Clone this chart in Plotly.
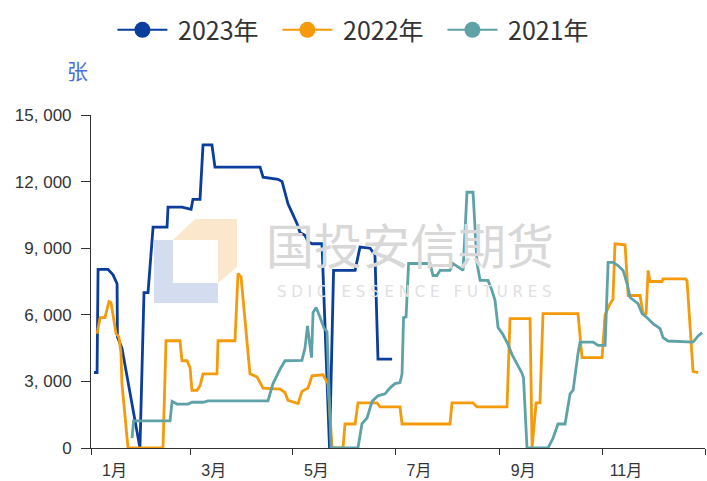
import plotly.graph_objects as go

# x = day of year (0 = 1 Jan), y = 张
days_2023 = [1.8, 3.6, 4.2, 10.1, 13.1, 15.5, 15.7, 18.4, 29.1, 31.5, 33.9, 36.9, 45.2, 45.8, 54.1,
             59.5, 60.6, 64.8, 66.6, 71.9, 73.7, 100.5, 102.3, 111.2, 113.6, 115.3, 117.1, 119.5,
             122.5, 124.3, 127.2, 129.0, 131.4, 137.3, 141.8, 144.2, 157.0, 159.9, 165.9, 168.8,
             170.6, 179.0]
vals_2023 = [3400, 3400, 8050, 8050, 7800, 7400, 5000, 4500, 0, 7000, 7000, 9950, 9950, 10850, 10850,
             10750, 11200, 11200, 13650, 13650, 12650, 12650, 12200, 12100, 12000, 11500, 11000, 10600,
             10100, 9700, 9580, 9300, 9200, 9200, 0, 8000, 8000, 9050, 9000, 8700,
             4000, 4000]

days_2022 = [3.6, 5.4, 8.3, 10.7, 11.9, 14.9, 16.6, 17.8, 18.4, 22.0, 42.8, 44.6, 52.9, 54.1, 57.1,
             58.9, 60.0, 63.0, 64.8, 66.6, 74.9, 75.5, 85.6, 87.4, 89.2, 94.5, 98.7, 102.3, 112.4,
             115.3, 117.1, 123.1, 125.4, 129.0, 131.4, 137.9, 140.9, 143.3, 149.8, 151.0, 157.0,
             158.7, 170.0, 171.8, 183.7, 184.9, 213.4, 214.6, 227.1, 229.5, 247.3, 249.1, 261.0,
             262.2, 264.6, 266.9, 268.7, 289.5, 291.9, 303.8, 305.6, 308.6, 310.3, 311.5, 317.5,
             319.3, 326.4, 328.2, 330.0, 331.2, 332.3, 339.5, 340.1, 353.2, 354.3, 357.9, 360.9]
vals_2022 = [5150, 5870, 5870, 6600, 6550, 5150, 5000, 4300, 2900, 0, 0, 4830, 4830, 3930, 3930,
             3620, 2600, 2600, 2800, 3340, 3340, 4830, 4830, 7860, 7700, 3340, 3200, 2700, 2650,
             2500, 2150, 2000, 2550, 2700, 3250, 3300, 2900, 0, 0, 1080, 1080,
             2030, 2030, 1850, 1850, 1080, 1080, 2030, 2030, 1850, 1850, 5830, 5830,
             0, 2030, 2030, 6050, 6050, 4070, 4070, 6000, 6500, 6700, 9200, 9150,
             6870, 6870, 6050, 6050, 8000, 7500, 7500, 7620, 7620, 7550, 3450, 3400]

days_2021 = [24.4, 25.3, 47.0, 48.2, 51.1, 57.7, 60.0, 66.6, 69.6, 105.2, 108.2, 110.6, 112.4, 115.3,
             125.4, 127.2, 128.7, 130.2, 131.1, 132.0, 133.8, 136.1, 138.5, 140.3, 142.7, 158.7,
             161.1, 164.1, 167.1, 170.6, 174.8, 177.8, 180.7, 183.7, 184.9, 185.8, 187.3, 188.8,
             201.5, 203.3, 205.7, 207.5, 213.4, 215.2, 219.4, 221.2, 223.5, 227.1, 229.5, 231.3,
             236.0, 238.4, 240.2, 242.0, 244.9, 247.9, 250.3, 253.3, 256.2, 257.1, 259.2, 271.7,
             274.7, 277.6, 281.8, 284.8, 286.6, 289.5, 290.7, 298.5, 301.4, 305.6, 307.4, 310.3,
             313.3, 316.3, 318.7, 320.5, 325.2, 327.6, 330.6, 334.1, 338.3, 340.1, 343.0, 357.9,
             360.9, 363.3]
vals_2021 = [450, 1220, 1220, 2100, 1980, 1980, 2060, 2060, 2120, 2120, 2900, 3300, 3550, 3930,
             3950, 4500, 5500, 4600, 4070, 6100, 6330, 5900, 5400, 5250, 0, 0,
             1100, 1350, 2100, 2350, 2440, 2710, 2900, 2950, 3340, 5870, 5900, 8310,
             8310, 7770, 7770, 8000, 8000, 8310, 8080, 8000, 11520, 11520, 8310, 7550,
             7550, 7090, 6640, 5420, 5110, 4670, 4200, 3750, 3370, 3160, 0, 0,
             450, 1080, 1080, 2440, 2600, 4250, 4770, 4770, 4620, 4620, 8360, 8360,
             8220, 8000, 7400, 6780, 6500, 6050, 5870, 5600, 5380, 4970, 4820, 4770,
             5050, 5200]

month_start_days = [0, 59, 120, 181, 243, 304, 365]
month_labels = ["1月", "3月", "5月", "7月", "9月", "11月"]
y_ticks = [0, 3000, 6000, 9000, 12000, 15000]
y_tick_labels = ["0", "3, 000", "6, 000", "9, 000", "12, 000", "15, 000"]

series = [
    ("2023年", days_2023, vals_2023, "#0a3d9c"),
    ("2022年", days_2022, vals_2022, "#f59a0a"),
    ("2021年", days_2021, vals_2021, "#5ea2a7"),
]

fig = go.Figure()
for name, xs, ys, color in series:
    fig.add_trace(go.Scatter(x=xs, y=ys, mode="lines", name=name, showlegend=False,
                             line=dict(color=color, width=2.8)))
for name, xs, ys, color in series:
    fig.add_trace(go.Scatter(x=[None], y=[None], mode="lines+markers", name="\u00a0" + name,
                             line=dict(color=color, width=2),
                             marker=dict(color=color, size=16)))

tick_font = dict(family="Liberation Sans, Noto Sans CJK SC", size=17, color="#333333")
x_tick_font = dict(family="Liberation Sans, Noto Sans CJK SC", size=16, color="#333333")

fig.update_layout(
    width=707, height=481,
    margin=dict(l=91, r=2, t=115, b=33),
    paper_bgcolor="white", plot_bgcolor="white",
    font=dict(family="Noto Sans CJK SC", color="#333333"),
    legend=dict(orientation="h", x=0.438, xanchor="center", y=1.255, yanchor="middle",
                font=dict(size=25, color="#333333"), itemwidth=50, entrywidth=100,
                traceorder="normal"),
    xaxis=dict(range=[0, 365], showgrid=False, zeroline=False, showline=True,
               linecolor="#333333", linewidth=1, automargin=False,
               tickmode="array", tickvals=[d + 14 for d in month_start_days[:-1]],
               ticktext=month_labels, ticks="", tickfont=x_tick_font, ticklabelstandoff=8,
               minor=dict(tickmode="array", tickvals=month_start_days, ticks="outside",
                          ticklen=6, tickcolor="#333333", showgrid=False)),
    yaxis=dict(range=[0, 15000], showgrid=False, zeroline=False, showline=True,
               linecolor="#333333", linewidth=1, automargin=False,
               tickmode="array", tickvals=y_ticks, ticktext=y_tick_labels,
               ticks="outside", ticklen=9, tickcolor="#333333", tickfont=tick_font,
               ticklabelstandoff=6),
)

fig.add_annotation(text="张", xref="paper", yref="paper", x=-0.0228, y=1.135,
                   xanchor="center", yanchor="middle",
                   showarrow=False, font=dict(size=21, color="#4a6fd8"))

# watermark
fig.add_shape(type="path", xref="paper", yref="paper", layer="below", line=dict(width=0),
              fillcolor="#d4ddef",
              path="M0.1026,0.6246 L0.1336,0.6246 L0.1336,0.4955 L0.2068,0.4955 L0.2068,0.4354 L0.1026,0.4354 Z")
fig.add_shape(type="path", xref="paper", yref="paper", layer="below", line=dict(width=0),
              fillcolor="#fbe8cc",
              path="M0.1336,0.6246 L0.1694,0.6877 L0.2378,0.6877 L0.2378,0.5435 L0.2068,0.4955 L0.2068,0.6246 Z")
fig.add_annotation(text="国投安信期货", xref="paper", yref="paper", x=0.5195, y=0.6156,
                   xanchor="center", yanchor="middle",
                   showarrow=False, font=dict(size=48, color="#d8d8d8"))
fig.add_annotation(text="S\u00a0D\u00a0I\u00a0C\u00a0\u00a0\u00a0E\u00a0S\u00a0S\u00a0E\u00a0N\u00a0C\u00a0E\u00a0\u00a0\u00a0F\u00a0U\u00a0T\u00a0U\u00a0R\u00a0E\u00a0S",
                   xref="paper", yref="paper",
                   x=0.526, y=0.4685, xanchor="center", yanchor="middle", showarrow=False,
                   font=dict(family="DejaVu Sans", size=15, color="#e0e0e0"))

fig.write_html("out.html", config={"displayModeBar": False},
               post_script="document.body.style.margin='0';")
